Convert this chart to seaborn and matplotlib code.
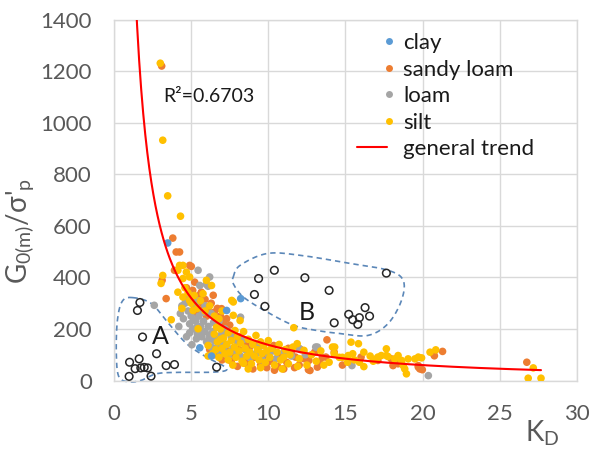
import numpy as np
import pandas as pd
import matplotlib
matplotlib.use("Agg")
import matplotlib.pyplot as plt
import seaborn as sns
from matplotlib.lines import Line2D
from matplotlib.legend_handler import HandlerBase

# ---- measured points (K_D, G0(m)/sigma'_p) ----
clay_pts = [(3.48, 534), (8.21, 318), (7.30, 272), (5.56, 127), (6.32, 95)]

sandy_loam_pts = [
    (3.09, 1221), (3.81, 553), (4.03, 499), (4.25, 499), (3.92, 428), (5.01, 443),
    (4.90, 447), (3.12, 389), (3.38, 318), (5.23, 382), (5.66, 343), (6.43, 331),
    (6.97, 279), (7.30, 240),
    (4.7, 360), (4.9, 330), (5.1, 350), (5.3, 310), (5.5, 330), (5.7, 295), (5.9, 315),
    (6.1, 280), (6.3, 300), (6.5, 265), (6.7, 280), (6.9, 250), (7.1, 225), (7.5, 215),
    (5.4, 260), (6.0, 250), (6.6, 220), (7.2, 195), (7.8, 180), (8.2, 170),
    (6.2, 120), (6.5, 100), (6.86, 104), (7.0, 80), (7.3, 115), (7.6, 75), (7.8, 100),
    (8.0, 55), (8.1, 120), (8.4, 85), (8.6, 65), (8.8, 130), (9.0, 45), (9.1, 90),
    (9.3, 110), (9.5, 60), (9.7, 95), (9.9, 50), (10.1, 75), (10.35, 136), (10.6, 55),
    (10.8, 100), (11.0, 45), (11.2, 70), (11.5, 110), (11.76, 91), (12.0, 60),
    (12.3, 85), (12.63, 78), (12.7, 39), (12.6, 42), (13.18, 52), (13.5, 90),
    (13.73, 91), (13.8, 158), (14.27, 110), (8.6, 150), (9.4, 140), (10.2, 115),
    (11.3, 125), (12.1, 120), (13.0, 110), (13.3, 70), (10.4, 40), (11.7, 50),
    (16.01, 91), (17.1, 78), (17.97, 84), (18.08, 58), (18.41, 65), (19.72, 58),
    (19.82, 45), (19.72, 52), (19.98, 42), (20.7, 104), (21.29, 113), (20.76, 96),
    (26.75, 71), (14.8, 60),
]

loam_pts = [
    (2.61, 292), (5.45, 428), (6.2, 402), (5.56, 369), (5.99, 373), (6.1, 366),
    (5.0, 330), (4.3, 260), (4.4, 290), (4.6, 300), (4.5, 240), (4.8, 270), (4.9, 220),
    (5.0, 250), (5.1, 200), (5.2, 280), (5.3, 230), (5.4, 180), (5.5, 250), (5.6, 210),
    (5.7, 170), (5.8, 230), (5.9, 190), (6.0, 150), (6.1, 210), (6.2, 175), (6.3, 130),
    (6.4, 190), (6.5, 155), (6.6, 120), (6.7, 170), (6.8, 140), (6.9, 110), (7.0, 150),
    (7.1, 125), (7.3, 140), (7.5, 110), (7.7, 125), (7.95, 110), (8.2, 95), (8.5, 120),
    (8.8, 90), (9.2, 105), (9.6, 80), (10.0, 100), (10.5, 85), (11.0, 110), (11.5, 95),
    (12.0, 125), (13.18, 130), (13.07, 130), (15.42, 58), (20.37, 19), (5.05, 139),
    (5.34, 162), (4.2, 210), (4.7, 170), (5.45, 310), (5.9, 290), (6.3, 260),
    (6.8, 230), (7.2, 200), (7.6, 170), (8.0, 150), (8.4, 160), (9.0, 140), (8.2, 246),
    (4.65, 320), (5.25, 300), (5.75, 265), (6.45, 225), (7.0, 185), (5.15, 235),
    (5.65, 190), (6.15, 160), (6.7, 130), (7.4, 95), (4.9, 185), (5.35, 205),
    (12.4, 100), (9.4, 130), (10.3, 115),
]

silt_pts = [
    (3.0, 1232), (3.16, 933), (3.48, 717), (4.31, 638), (4.25, 447), (4.47, 447),
    (4.14, 428), (4.69, 421), (4.47, 396), (4.9, 402), (3.16, 408), (3.05, 377),
    (3.71, 236), (4.14, 343), (4.47, 324), (4.9, 311), (5.12, 272), (5.77, 337),
    (5.99, 389), (6.32, 369), (7.63, 311), (7.73, 305), (7.73, 253), (8.17, 233),
    (5.45, 201), (6.65, 207), (6.10, 136), (7.19, 104), (7.84, 194), (11.65, 205),
    (4.6, 360), (4.8, 340), (5.0, 300), (5.2, 330), (5.4, 280), (5.6, 310), (5.9, 270),
    (6.2, 290), (6.5, 250), (6.8, 240), (7.0, 270), (4.4, 280),
    (6.9, 160), (6.4, 105), (7.4, 80), (6.1, 95),
    (6.5, 180), (6.7, 150), (6.9, 200), (7.0, 125), (7.1, 165), (7.3, 140), (7.4, 185),
    (7.5, 110), (7.6, 155), (7.8, 130), (7.9, 90), (8.0, 170), (8.1, 115), (8.2, 145),
    (8.3, 75), (8.4, 190), (8.5, 125), (8.6, 95), (8.7, 160), (8.8, 110), (8.9, 65),
    (9.0, 140), (9.1, 95), (9.2, 175), (9.3, 120), (9.4, 80), (9.5, 150), (9.6, 105),
    (9.7, 135), (9.8, 70), (9.9, 115), (10.0, 155), (10.1, 90), (10.2, 125), (10.4, 60),
    (10.57, 110), (10.7, 140), (10.8, 80), (11.0, 91), (11.1, 120), (11.3, 65),
    (11.4, 100), (11.6, 130), (11.87, 143), (12.0, 85), (12.31, 117), (12.5, 60),
    (12.8, 100), (13.1, 75), (13.4, 115), (13.6, 60), (14.16, 130), (14.27, 104),
    (13.94, 71), (14.6, 90), (8.39, 67), (6.6, 120), (6.8, 90), (7.7, 60), (8.7, 45),
    (9.5, 50), (10.9, 45), (11.9, 55),
    (15.36, 149), (15.84, 143), (16.19, 110), (15.47, 104), (15.18, 97), (15.58, 80),
    (15.9, 71), (15.14, 71), (16.19, 54), (17.65, 123), (17.0, 84), (17.32, 97),
    (17.76, 93), (18.19, 84), (18.63, 78), (19.06, 84), (19.5, 84), (19.93, 88),
    (18.84, 45), (18.95, 26), (18.74, 58), (20.48, 110), (20.85, 119), (19.72, 91),
    (27.17, 49), (26.84, 9), (27.67, 9), (14.8, 90), (16.6, 95), (17.65, 97),
    (18.41, 97), (17.1, 91), (16.8, 75), (14.3, 130),
]

# open circles: group A (low K_D, low stiffness) and group B (high stiffness)
group_a_pts = [
    (1.68, 303), (1.52, 272), (1.85, 169), (2.76, 104), (1.01, 71), (1.63, 84),
    (1.37, 46), (1.74, 49), (2.18, 49), (1.96, 51), (3.38, 58), (3.92, 62),
    (0.98, 16), (2.40, 17), (6.65, 52),
]
group_b_pts = [
    (10.39, 428), (9.37, 396), (12.37, 399), (9.10, 334), (9.78, 288), (13.94, 350),
    (17.65, 417), (14.27, 224), (15.21, 257), (15.47, 236), (15.90, 244), (15.80, 218),
    (16.27, 283), (16.56, 250),
]

# outline vertices of the two groups
outline_a = [
    (1.20, 322), (2.40, 300), (3.38, 233), (4.69, 144), (5.99, 91), (7.06, 58),
    (7.25, 39), (6.21, 32), (4.44, 32), (2.81, 27), (1.83, 2), (1.09, -5),
    (0.33, 13), (0.15, 105), (0.22, 233), (0.54, 308),
]
outline_b = [
    (7.73, 402), (8.17, 447), (9.92, 493), (12.09, 486), (15.36, 454), (17.76, 428),
    (18.74, 389), (18.63, 311), (17.76, 221), (16.45, 175), (14.71, 182), (13.18, 194),
    (11.65, 214), (9.92, 266), (8.39, 324), (7.73, 376),
]

# power-law trend G = a * K_D^b
trend_a = 2245.0
trend_b = -1.21
trend_kd_range = (1.30, 27.67)
r_squared = "0.6703"

soil_names = ["clay", "sandy loam", "loam", "silt"]
soil_colors = {"clay": "#5B9BD5", "sandy loam": "#ED7D31",
               "loam": "#A5A5A5", "silt": "#FFC000"}
draw_order = ["sandy loam", "loam", "silt", "clay"]

series = {"clay": clay_pts, "sandy loam": sandy_loam_pts,
          "loam": loam_pts, "silt": silt_pts}
frames = []
for name in draw_order:
    arr = np.array(series[name], dtype=float)
    frames.append(pd.DataFrame({"KD": arr[:, 0], "G": arr[:, 1], "soil": name}))
df = pd.concat(frames, ignore_index=True)

open_df = pd.DataFrame(np.array(group_a_pts + group_b_pts, dtype=float),
                       columns=["KD", "G"])


def closed_spline(pts, n=24):
    """Closed Catmull-Rom curve through the given vertices."""
    p = np.asarray(pts, dtype=float)
    m = len(p)
    out = []
    t = np.linspace(0, 1, n, endpoint=False)[:, None]
    for i in range(m):
        p0, p1, p2, p3 = p[i - 1], p[i], p[(i + 1) % m], p[(i + 2) % m]
        seg = 0.5 * ((2 * p1) + (-p0 + p2) * t +
                     (2 * p0 - 5 * p1 + 4 * p2 - p3) * t ** 2 +
                     (-p0 + 3 * p1 - 3 * p2 + p3) * t ** 3)
        out.append(seg)
    out = np.vstack(out)
    return np.vstack([out, out[:1]])


class DotHandler(HandlerBase):
    """Legend entry drawn as a small dot at the right end of the handle box."""
    def create_artists(self, legend, orig_handle, xdescent, ydescent,
                       width, height, fontsize, trans):
        dot = Line2D([-xdescent + width + 1.5], [-ydescent + height / 2],
                     marker="o", ms=orig_handle.get_markersize(),
                     mfc=orig_handle.get_markerfacecolor(), mec="none",
                     ls="none", transform=trans)
        return [dot]


sns.set_theme(style="white")
plt.rcParams["font.family"] = ["Lato", "DejaVu Sans"]
plt.rcParams["mathtext.fontset"] = "custom"
plt.rcParams["mathtext.rm"] = "Lato"
plt.rcParams["mathtext.it"] = "Lato:italic"
plt.rcParams["mathtext.bf"] = "Lato:bold"

grey_txt = "#595959"
grid_col = "#D9D9D9"

fig = plt.figure(figsize=(5.90, 4.53), dpi=100)
ax = fig.add_axes([0.1932, 0.160, 0.7847, 0.796])

sns.scatterplot(data=df, x="KD", y="G", hue="soil", palette=soil_colors,
                s=30, linewidth=0, legend=False, ax=ax, zorder=3)
sns.scatterplot(data=open_df, x="KD", y="G", s=30, facecolors="none",
                edgecolor="#262626", linewidth=1.1, legend=False, ax=ax, zorder=4)

kd_line = np.linspace(trend_kd_range[0], trend_kd_range[1], 400)
sns.lineplot(x=kd_line, y=trend_a * kd_line ** trend_b, color="#FF0000",
             linewidth=1.5, ax=ax, zorder=5, sort=False)

for outline in (outline_a, outline_b):
    c = closed_spline(outline)
    ax.plot(c[:, 0], c[:, 1], color="#5B87B8", lw=1.2, ls=(0, (3.2, 2.4)),
            zorder=2, clip_on=False)

ax.text(3.0, 169, "A", fontsize=18, color="#1A1A1A", ha="center", va="center", zorder=6)
ax.text(12.5, 264, "B", fontsize=18, color="#1A1A1A", ha="center", va="center", zorder=6)
ax.text(3.2, 1101, "R²=" + r_squared, fontsize=14, color="#1A1A1A",
        ha="left", va="center", zorder=6)

ax.set_xlim(0, 30)
ax.set_ylim(0, 1400)
ax.set_xticks(np.arange(0, 31, 5))
ax.set_yticks(np.arange(0, 1401, 200))
ax.grid(True, color=grid_col, linewidth=1.0)
ax.set_axisbelow(True)
for sp in ax.spines.values():
    sp.set_color(grid_col)
    sp.set_linewidth(1.0)
ax.tick_params(axis="both", length=0, labelsize=16, labelcolor=grey_txt)
ax.tick_params(axis="x", pad=17)
ax.tick_params(axis="y", pad=16)

ax.set_xlabel("K$_{\\mathrm{D}}$", fontsize=20, color=grey_txt)
ax.xaxis.set_label_coords(0.924, -0.105)
ax.set_ylabel("G$_{\\mathrm{0(m)}}$/σ'$_{\\mathrm{p}}$", fontsize=20, color=grey_txt)
ax.yaxis.set_label_coords(-0.168, 0.415)

handles = [Line2D([], [], marker="o", ms=5, mfc=soil_colors[n], ls="none")
           for n in soil_names]
handles.append(Line2D([], [], color="#FF0000", lw=1.5))
labels = soil_names + ["general trend"]
handler_map = {h: DotHandler() for h in handles[:4]}
leg = ax.legend(handles, labels, handler_map=handler_map, loc="upper left",
                bbox_to_anchor=(0.525, 0.963), borderpad=0, borderaxespad=0,
                handlelength=1.35, handletextpad=0.72, labelspacing=0.29,
                frameon=False, fontsize=16)
for t in leg.get_texts():
    t.set_color("#1A1A1A")

fig.savefig("out.png", dpi=100)
